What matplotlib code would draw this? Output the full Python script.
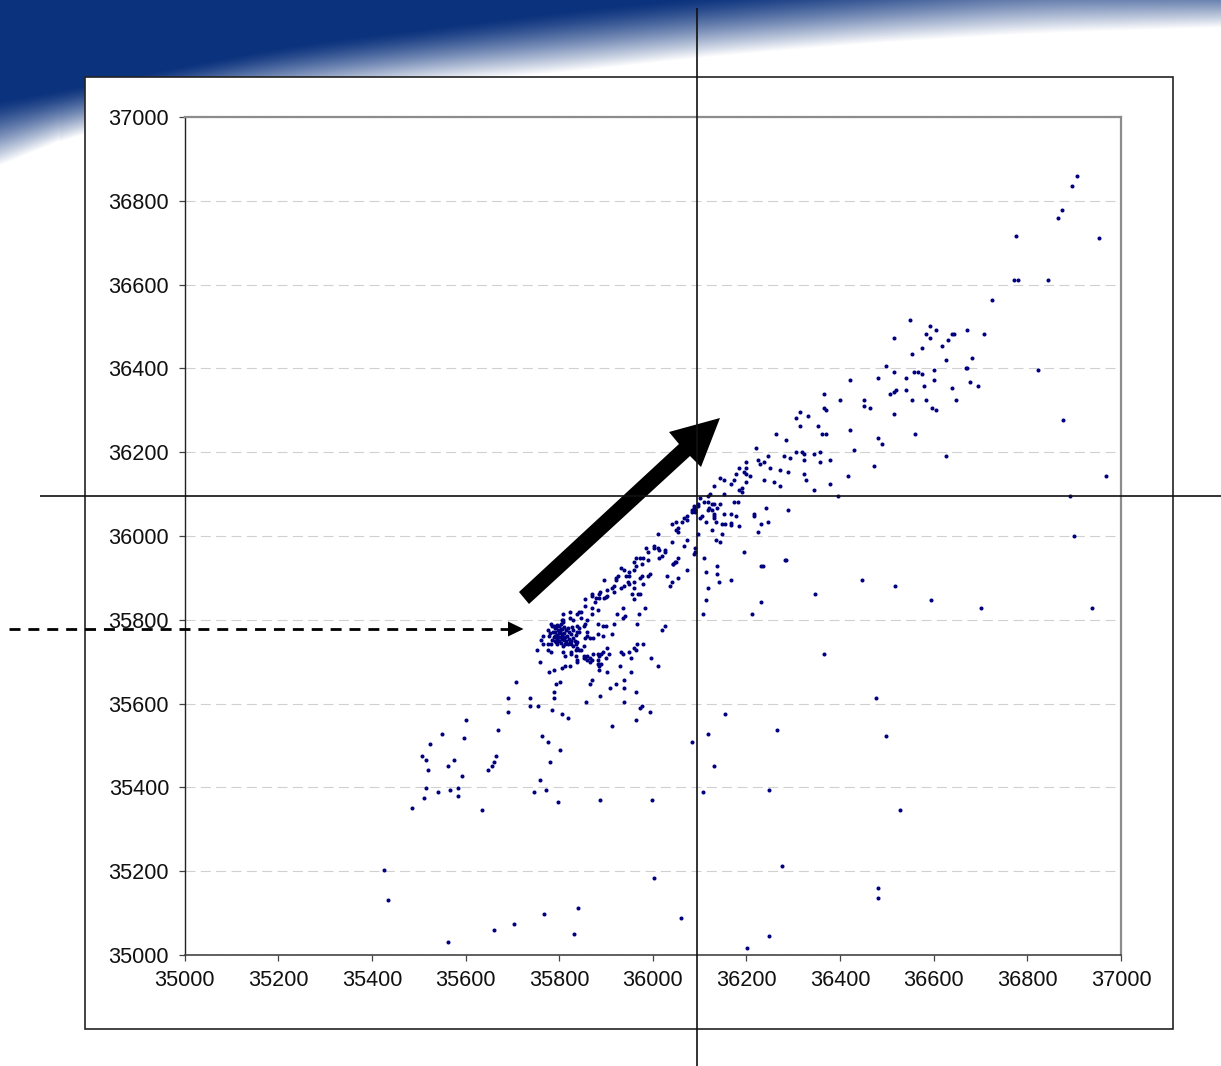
import numpy as np
import matplotlib
matplotlib.use("Agg")
import matplotlib.pyplot as plt
from matplotlib.patches import Polygon, Rectangle

plt.rcParams['font.family'] = ['Liberation Sans', 'DejaVu Sans']

# ---- data, (x, y) pairs ----
lower_points = [
(35707,35651),(35690,35613),(35690,35580),(35737,35613),(35737,35594),(35754,35594),(35788,35613),(35788,35627),
(35793,35646),(35801,35651),(35784,35584),(35805,35575),(35818,35565),(35857,35603),(35865,35646),(35869,35656),
(35887,35618),(35908,35637),(35921,35646),(35938,35637),(35938,35656),(35963,35627),(35938,35603),(35976,35594),
(35972,35589),(35993,35580),(35963,35560),(35912,35546),(35600,35560),(35549,35527),(35596,35517),(35523,35503),
(35669,35537),(35763,35522),(35775,35508),(35801,35489),(35780,35460),(35506,35474),(35515,35465),(35575,35465),
(35562,35451),(35519,35441),(35664,35474),(35660,35460),(35656,35451),(35647,35441),(35592,35427),(35758,35417),
(35515,35398),(35583,35398),(35566,35393),(35541,35388),(35583,35379),(35511,35374),(35485,35350),(35635,35346),
(35746,35388),(35771,35393),(35797,35365),(35887,35369),(35998,35369),(35425,35202),(35434,35131),(36002,35183),
(35840,35111),(35767,35097),(35703,35073),(35660,35059),(35562,35030),(35831,35049),
]
right_low_points = [
(36061,35088),(36202,35016),(36249,35045),(36275,35212),(36480,35160),(36480,35136),(36527,35346),(36249,35394),
(36108,35389),(36130,35451),(36083,35508),(36117,35527),(36266,35537),(36155,35575),(36497,35523),(36476,35613),
(36365,35719),(36108,35814),(36211,35814),(36232,35843),(36113,35847),(36117,35876),(36142,35890),(36138,35910),
(36113,35914),(36074,35919),(36138,35929),(36168,35895),(36231,35929),(36236,35929),(36283,35943),(36347,35862),
(36446,35895),(36518,35881),(36595,35847),(36031,35905),(36040,35890),(36036,35881),(36053,35900),(36044,35933),
(36048,35938),(36027,35785),(36019,35776),
]
far_right_points = [
(36907,36860),(36895,36836),(36873,36779),(36865,36760),(36775,36717),(36954,36712),(36771,36611),(36779,36611),
(36843,36611),(36724,36564),(36672,36492),(36707,36482),(36681,36425),(36668,36401),(36672,36401),(36822,36396),
(36677,36368),(36694,36358),(36877,36277),(36967,36143),(36890,36096),(36899,36000),(36702,35828),(36937,35828),
]
upper_points = [
(36549,36516),(36591,36502),(36604,36492),(36583,36483),(36638,36483),(36643,36483),(36515,36473),(36591,36473),
(36630,36468),(36617,36454),(36574,36449),(36553,36435),(36626,36421),(36497,36406),(36515,36392),(36557,36392),
(36566,36392),(36574,36387),(36600,36397),(36421,36373),(36480,36378),(36540,36378),(36600,36373),(36579,36359),
(36638,36354),(36540,36349),(36519,36349),(36515,36344),(36506,36340),(36365,36340),(36399,36325),(36450,36325),
(36553,36325),(36583,36325),(36647,36325),(36450,36311),(36463,36306),(36365,36306),(36369,36301),(36596,36306),
(36604,36301),(36515,36292),(36314,36297),(36305,36282),(36331,36287),(36314,36263),(36352,36263),(36421,36254),
(36262,36244),(36361,36244),(36369,36244),(36561,36244),(36284,36230),(36480,36234),(36489,36220),(36429,36206),
(36305,36201),(36318,36201),(36322,36196),(36344,36196),(36356,36201),(36245,36191),(36280,36191),(36292,36187),
(36626,36191),(36322,36182),(36356,36177),(36378,36182),(36237,36177),(36229,36172),(36472,36168),(36250,36163),
(36271,36158),(36288,36153),(36322,36148),(36416,36144),(36327,36134),(36237,36134),(36258,36129),(36271,36120),
(36378,36125),(36344,36110),(36395,36096),
]
band_points = [
(36220,36210),(36198,36177),(36224,36182),(36185,36163),(36198,36163),(36194,36153),(36198,36148),(36207,36144),
(36177,36148),(36143,36139),(36151,36134),(36173,36134),(36168,36124),(36198,36129),(36130,36120),(36190,36115),
(36185,36110),(36190,36105),(36151,36100),(36123,36100),(36118,36096),(36100,36091),(36109,36081),(36117,36081),
(36173,36081),(36181,36081),(36096,36077),(36096,36072),(36126,36077),(36130,36077),(36143,36077),(36087,36072),
(36087,36067),(36091,36062),(36083,36062),(36083,36057),(36091,36057),(36121,36067),(36117,36062),(36126,36062),
(36138,36067),(36241,36067),(36288,36062),(36130,36053),(36151,36053),(36168,36053),(36130,36048),(36130,36043),
(36215,36053),(36215,36048),(36177,36048),(36104,36048),(36100,36043),(36074,36048),(36074,36038),(36066,36043),
(36062,36034),(36049,36034),(36040,36029),(36113,36034),(36134,36034),(36147,36029),(36155,36029),(36168,36032),
(36168,36027),(36185,36024),(36245,36034),(36232,36029),(36053,36019),(36049,36015),(36053,36010),(36126,36015),
(36224,36010),(36010,36005),(36096,36005),(36147,36005),(36134,35991),(36143,35986),(36040,35986),(36074,35991),
(36066,35976),(35985,35972),(36002,35976),(36002,35972),(36010,35972),(36014,35967),(35989,35962),(36027,35967),
(36027,35962),(36091,35972),(36091,35962),(36087,35957),(36194,35962),(36109,35948),(36014,35948),(36019,35952),
(36053,35948),(35972,35948),(35980,35948),(35963,35948),(35959,35938),(35989,35943),(35963,35929),(35976,35933),
(36049,35938),(36044,35933),(36284,35943),(35933,35924),(35938,35919),(35959,35919),(35950,35914),(35942,35905),
(35950,35905),(35925,35905),(35921,35900),(35921,35895),(35895,35895),(35993,35909),(35989,35905),(35976,35905),
(35972,35900),(35946,35890),(35950,35886),(35959,35890),(35980,35886),(35916,35881),(35938,35881),(35933,35876),
(35959,35876),(35913,35876),(35903,35871),(35916,35866),(35955,35862),(35968,35862),(35972,35862),(35888,35866),
(35886,35862),(35869,35862),(35869,35857),(35878,35852),(35886,35852),(35895,35852),(35899,35855),(35903,35857),
(35856,35850),(35959,35850),
]
middle_points = [
(35877,35843),(35856,35833),(35869,35828),(35882,35824),(35843,35819),(35847,35819),(35839,35814),(35822,35819),
(35809,35814),(35937,35828),(35984,35828),(35924,35814),(35971,35814),(35941,35809),(35937,35804),(35869,35814),
(35847,35804),(35822,35804),(35830,35800),(35809,35800),(35860,35800),(35856,35790),(35852,35785),(35843,35781),
(35839,35785),(35882,35790),(35894,35785),(35899,35785),(35916,35790),(35967,35790),(35882,35766),(35894,35761),
(35912,35766),(35860,35771),(35839,35771),(35843,35771),(35783,35790),(35788,35785),(35805,35800),(35809,35795),
(35775,35776),(35779,35761),(35766,35761),(35762,35752),(35766,35742),(35775,35742),(35783,35742),(35796,35742),
(35809,35738),(35818,35742),(35826,35742),(35835,35742),(35830,35738),(35839,35747),(35843,35728),(35839,35733),
(35835,35728),(35847,35728),(35852,35738),(35856,35757),(35860,35761),(35865,35757),(35873,35757),(35753,35728),
(35775,35728),(35783,35723),(35809,35723),(35813,35714),(35826,35723),(35826,35719),(35835,35714),(35839,35704),
(35839,35699),(35852,35714),(35856,35709),(35860,35714),(35865,35709),(35852,35709),(35860,35704),(35865,35699),
(35869,35704),(35873,35719),(35882,35719),(35886,35714),(35890,35719),(35894,35723),(35903,35733),(35907,35719),
(35899,35709),(35882,35704),(35882,35695),(35886,35695),(35890,35695),(35886,35690),(35886,35680),(35903,35676),
(35929,35690),(35933,35723),(35937,35719),(35950,35723),(35959,35733),(35963,35728),(35967,35742),(35980,35742),
(35954,35709),(35997,35709),(36010,35690),(35954,35676),(35758,35699),(35779,35676),(35788,35680),(35805,35685),
(35813,35690),(35822,35690),
]
cluster_points = [
(35785,35785),(35790,35780),(35795,35788),(35800,35785),(35804,35790),(35792,35772),(35786,35770),(35797,35776),
(35802,35770),(35807,35778),(35811,35784),(35815,35775),(35790,35762),(35796,35764),(35801,35760),(35806,35765),
(35811,35768),(35816,35762),(35820,35770),(35825,35766),(35830,35776),(35784,35752),(35790,35750),(35795,35754),
(35800,35750),(35805,35755),(35810,35752),(35815,35750),(35820,35755),(35825,35750),(35830,35757),(35794,35746),
(35804,35744),(35812,35742),(35798,35758),(35808,35760),(35788,35758),(35822,35746),(35833,35750),(35780,35768),
(35793,35782),(35799,35768),(35803,35778),(35813,35758),(35818,35780),(35827,35782),(35836,35763),
]
all_points = (lower_points + right_low_points + far_right_points + upper_points
              + band_points + middle_points + cluster_points)
x_values = [p[0] for p in all_points]
y_values = [p[1] for p in all_points]
tick_values = list(range(35000, 37001, 200))

# ---- figure ----
W, H = 1221, 1066
fig = plt.figure(figsize=(W/100, H/100), dpi=100, facecolor='white')

# background swoosh
bg = fig.add_axes([0, 0, 1, 1], zorder=0)
xx = np.arange(-60, W + 60)
edge_x = [0, 85, 200, 300, 433, 567, 700, 867, 1033, 1221]
blue_end = [100, 85, 62, 43, 27, 10, -3, -18, -33, -27]
white_end = [165, 130, 110, 98, 82, 72, 57, 43, 33, 27]
box = np.ones(121) / 121
d = np.convolve(np.interp(xx, edge_x, blue_end), box, mode='same')[60:-60]
w = np.convolve(np.interp(xx, edge_x, white_end), box, mode='same')[60:-60]
# the box smoothing loses the ends, so keep the read values there
d[:60] = np.interp(np.arange(60), edge_x, blue_end)
w[:60] = np.interp(np.arange(60), edge_x, white_end)
d[-60:] = np.interp(np.arange(W - 60, W), edge_x, blue_end)
w[-60:] = np.interp(np.arange(W - 60, W), edge_x, white_end)
yy = np.arange(180)[:, None]
t = np.clip((yy - d[None, :]) / (w - d)[None, :], 0, 1) ** 1.3
blue = np.array([11, 50, 125]) / 255
img = blue[None, None, :] * (1 - t[..., None]) + t[..., None]
bg.imshow(img, extent=(0, W, 180, 0), aspect='auto', zorder=0, interpolation='bilinear')
bg.set_xlim(0, W); bg.set_ylim(H, 0); bg.axis('off')
bg.add_patch(Rectangle((85, 77), 1088, 951.5, facecolor='white', edgecolor='#222222', lw=1.2, zorder=2))

# chart
ax = fig.add_axes([184.7/W, 1-955/H, (1121-184.7)/W, (955-117)/H], zorder=1)
ax.patch.set_alpha(0)
ax.set_xlim(35000, 37000)
ax.set_ylim(35000, 37000)
ax.set_xticks(tick_values)
ax.set_yticks(tick_values)
ax.tick_params(axis='both', direction='out', length=4.3, width=0.9, color='#444444',
               labelsize=15.6, labelcolor='#111111')
ax.tick_params(axis='x', pad=6.5)
ax.tick_params(axis='y', pad=7)
ax.grid(axis='y', color='#d0d0d0', lw=0.8, linestyle=(0, (9, 4.8)))
ax.set_axisbelow(True)
for side, col, lw in [('left', '#222222', 1.0), ('bottom', '#444444', 1.2),
                      ('top', '#8c8c8c', 1.6), ('right', '#8c8c8c', 1.6)]:
    ax.spines[side].set_color(col)
    ax.spines[side].set_linewidth(lw)
ax.scatter(x_values, y_values, s=8.5, color='#000080', linewidths=0, zorder=3, clip_on=False)

# annotation overlay, in picture pixels
ov = fig.add_axes([0, 0, 1, 1], zorder=5)
ov.patch.set_alpha(0)
ov.plot([697.3, 697.3], [8, H], color='#111111', lw=1.2, solid_capstyle='butt')
ov.plot([40, W], [495.6, 495.6], color='#111111', lw=1.2, solid_capstyle='butt')
ov.add_patch(Polygon([(519, 592), (679, 444), (669, 432), (720, 418), (701, 467), (690, 456), (529, 604)],
                     closed=True, facecolor='black', edgecolor='none'))
ov.plot([9, 509], [629, 629], color='black', lw=2.0, linestyle=(0, (3.95, 2.85)), dash_capstyle='butt')
ov.add_patch(Polygon([(508, 621.5), (523.5, 629), (508, 636.5)], closed=True, facecolor='black', edgecolor='none'))
ov.set_xlim(0, W); ov.set_ylim(H, 0); ov.axis('off')

fig.savefig('out.png', dpi=100, facecolor='white')
